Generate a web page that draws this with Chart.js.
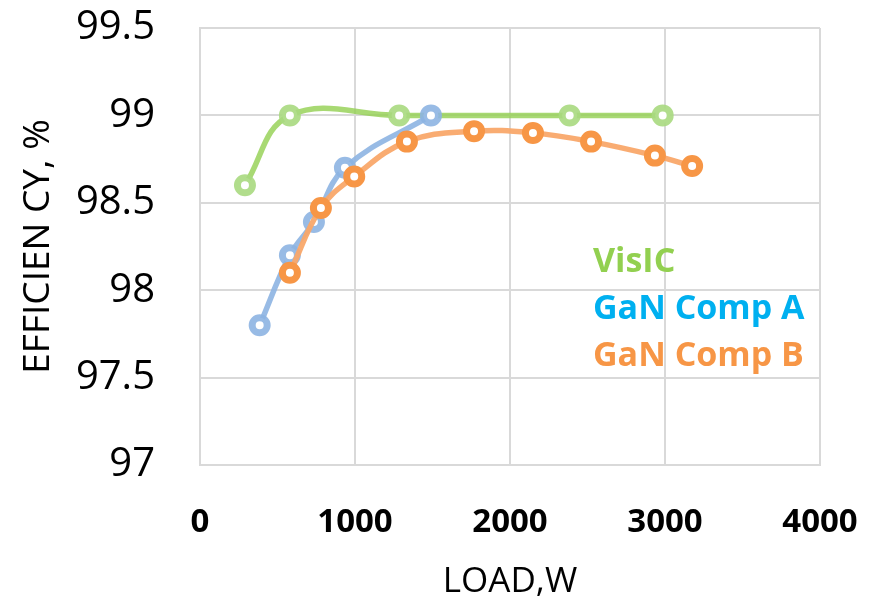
<!DOCTYPE html>
<html lang="en">
<head>
    <meta charset="UTF-8">
    <title>Efficiency vs Load</title>
    <script src="https://cdn.jsdelivr.net/npm/chart.js"></script>
    <style>
        html, body { margin: 0; padding: 0; background: #fff; }
        #wrap { width: 886px; height: 608px; }
    </style>
</head>
<body>
<div id="wrap"><canvas id="effChart" width="886" height="608"></canvas></div>
<script>
    // Data
    const visicLoad = [290, 580, 1285, 2385, 2985];
    const visicEff  = [98.6, 99.0, 99.0, 99.0, 99.0];

    const compALoad = [385, 580, 735, 935, 1490];
    const compAEff  = [97.8, 98.2, 98.39, 98.7, 99.0];

    const compBLoad = [580, 780, 995, 1335, 1768, 2148, 2523, 2935, 3175];
    const compBEff  = [98.1, 98.47, 98.65, 98.85, 98.91, 98.9, 98.85, 98.77, 98.71];

    const seriesNames = ['VisIC', 'GaN Comp A', 'GaN Comp B'];
    const xTicks = [0, 1000, 2000, 3000, 4000];
    const yTicks = [97, 97.5, 98, 98.5, 99, 99.5];

    const toPts = (xs, ys) => xs.map((x, i) => ({x: x, y: ys[i]}));

    // text "legend" sitting inside the plot
    const labelPlugin = {
        id: 'seriesLabels',
        afterDraw(chart) {
            const c = chart.ctx;
            c.save();
            c.font = 'bold 34px "Open Sans"';
            c.textBaseline = 'alphabetic';
            c.textAlign = 'left';
            const cols = ['#92D050', '#00B0F0', '#F79646'];
            const ys = [272, 319, 366];
            seriesNames.forEach((n, i) => {
                c.fillStyle = cols[i];
                c.fillText(n, 593, ys[i]);
            });
            c.restore();
        }
    };

    const common = {
        showLine: true,
        tension: 0.4,
        borderWidth: 5.5,
        pointRadius: 7.5,
        pointBorderWidth: 7,
        pointBackgroundColor: '#ffffff',
        pointHoverRadius: 7.5
    };

    const noPad = s => { s.paddingTop = 0; s.paddingBottom = 0; s.paddingLeft = 0; s.paddingRight = 0; };

    new Chart(document.getElementById('effChart'), {
        type: 'scatter',
        data: {
            datasets: [
                Object.assign({}, common, {
                    label: seriesNames[0],
                    data: toPts(visicLoad, visicEff),
                    borderColor: 'rgba(146,208,80,0.8)',
                    pointBorderColor: 'rgba(169,217,128,0.9)',
                    order: 2
                }),
                Object.assign({}, common, {
                    label: seriesNames[1],
                    data: toPts(compALoad, compAEff),
                    borderColor: 'rgba(141,180,226,0.9)',
                    pointBorderColor: 'rgba(141,180,226,0.9)',
                    order: 1
                }),
                Object.assign({}, common, {
                    label: seriesNames[2],
                    data: toPts(compBLoad, compBEff),
                    borderColor: 'rgba(249,168,106,0.95)',
                    pointBorderColor: '#F79646',
                    order: 0
                })
            ]
        },
        options: {
            responsive: false,
            animation: false,
            layout: { padding: { top: 28, right: 66, left: 0, bottom: 0 } },
            plugins: {
                legend: { display: false },
                tooltip: { enabled: false }
            },
            scales: {
                x: {
                    type: 'linear',
                    min: 0, max: 4000,
                    afterBuildTicks: s => { s.ticks = xTicks.map(v => ({value: v})); },
                    afterFit: s => { s.height = 143; noPad(s); },
                    grid: { color: '#D9D9D9', lineWidth: 2, drawTicks: false },
                    border: { color: '#D9D9D9', width: 2 },
                    ticks: {
                        color: '#000',
                        padding: 38,
                        font: { family: '"Open Sans"', size: 33, weight: 'bold' },
                        callback: v => String(v)
                    },
                    title: {
                        display: true,
                        text: 'LOAD,W',
                        color: '#000',
                        padding: { top: 0, bottom: 5 },
                        font: { family: '"Open Sans"', size: 35 }
                    }
                },
                y: {
                    min: 97, max: 99.5,
                    afterBuildTicks: s => { s.ticks = yTicks.map(v => ({value: v})); },
                    afterFit: s => { s.width = 200; noPad(s); },
                    grid: { color: '#D9D9D9', lineWidth: 2, drawTicks: false },
                    border: { color: '#D9D9D9', width: 2 },
                    ticks: {
                        color: '#000',
                        padding: 45,
                        font: { family: '"Open Sans"', size: 40 },
                        callback: v => String(v)
                    },
                    title: {
                        display: true,
                        text: 'EFFICIEN CY, %',
                        color: '#000',
                        padding: { top: 16, bottom: 0 },
                        font: { family: '"Open Sans"', size: 37 }
                    }
                }
            }
        },
        plugins: [labelPlugin]
    });
</script>
</body>
</html>
